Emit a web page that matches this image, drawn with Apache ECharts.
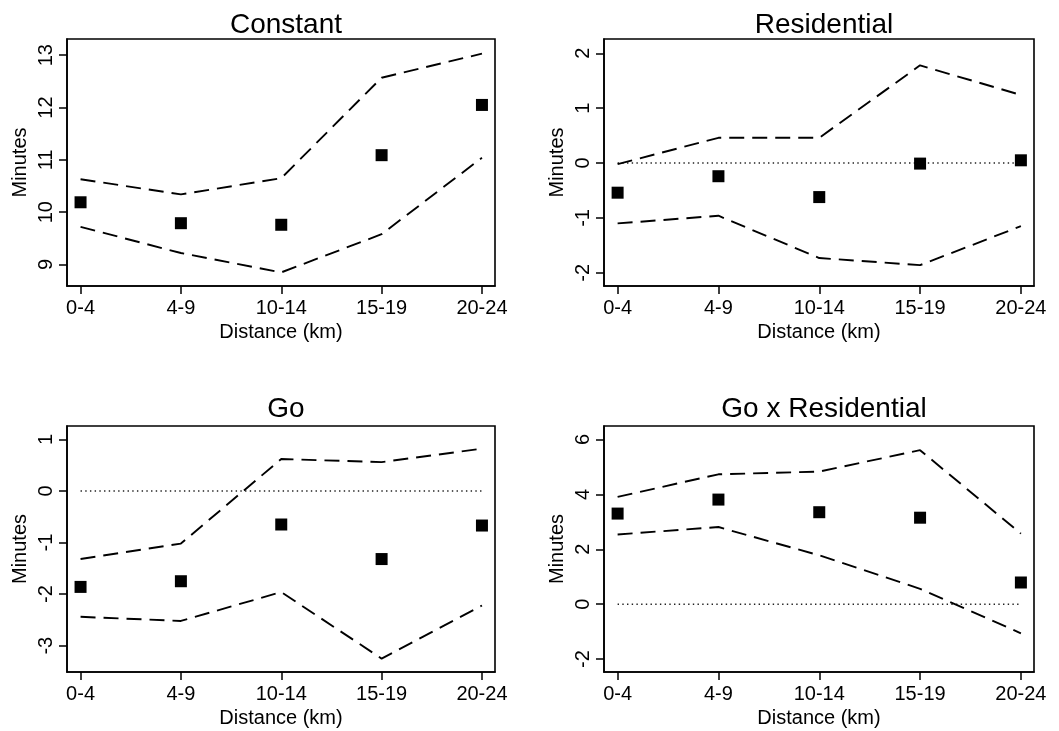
<!DOCTYPE html>
<html>
<head>
<meta charset="utf-8">
<script src="https://cdn.jsdelivr.net/npm/echarts@6/dist/echarts.min.js"></script>
<style>
  html, body { margin: 0; padding: 0; background: #fff; }
  #chart { width: 1059px; height: 731px; }
</style>
</head>
<body>
<div id="chart"></div>
<script>
// Distance bands (x categories)
const distanceBands = ['0-4', '4-9', '10-14', '15-19', '20-24'];

// Panel titles
const panelTitles = ['Constant', 'Residential', 'Go', 'Go x Residential'];

// Point estimates (minutes) per distance band
const constantEst    = [10.19, 9.79, 9.76, 11.09, 12.05];
const residentialEst = [-0.54, -0.24, -0.62, -0.01, 0.05];
const goEst          = [-1.86, -1.75, -0.65, -1.32, -0.67];
const goResEst       = [3.30, 3.81, 3.35, 3.15, 0.79];

// Upper confidence bounds
const constantHi    = [10.63, 10.34, 10.65, 12.57, 13.03];
const residentialHi = [-0.02, 0.46, 0.46, 1.78, 1.24];
const goHi          = [-1.32, -1.02, 0.62, 0.56, 0.82];
const goResHi       = [3.91, 4.73, 4.83, 5.61, 2.57];

// Lower confidence bounds
const constantLo    = [9.72, 9.22, 8.85, 9.58, 11.04];
const residentialLo = [-1.10, -0.96, -1.73, -1.86, -1.15];
const goLo          = [-2.44, -2.52, -1.96, -3.25, -2.22];
const goResLo       = [2.54, 2.81, 1.78, 0.56, -1.06];

// Y tick labels per panel
const constantTicks    = [9, 10, 11, 12, 13];
const residentialTicks = [-2, -1, 0, 1, 2];
const goTicks          = [-3, -2, -1, 0, 1];
const goResTicks       = [-2, 0, 2, 4, 6];

const FONT = '"Liberation Sans", Arial, Helvetica, sans-serif';

const panels = [
  { title: panelTitles[0], est: constantEst, hi: constantHi, lo: constantLo, ticks: constantTicks,
    yMin: 8.59, yMax: 13.31, zero: false, titleTop: 6, box: { left: 67, top: 39, width: 428, height: 247 } },
  { title: panelTitles[1], est: residentialEst, hi: residentialHi, lo: residentialLo, ticks: residentialTicks,
    yMin: -2.24, yMax: 2.26, zero: true, titleTop: 6, box: { left: 604, top: 39, width: 430, height: 247 } },
  { title: panelTitles[2], est: goEst, hi: goHi, lo: goLo, ticks: goTicks,
    yMin: -3.51, yMax: 1.26, zero: true, titleTop: 390, box: { left: 67, top: 426, width: 428, height: 246 } },
  { title: panelTitles[3], est: goResEst, hi: goResHi, lo: goResLo, ticks: goResTicks,
    yMin: -2.47, yMax: 6.49, zero: true, titleTop: 390, box: { left: 604, top: 426, width: 430, height: 246 } }
];

const catIdx = distanceBands.map((_, i) => i);
const pairs = arr => arr.map((v, i) => [i, v]);

const grid = [], xAxis = [], yAxis = [], series = [], title = [];

panels.forEach((p, k) => {
  grid.push({
    left: p.box.left, top: p.box.top, width: p.box.width, height: p.box.height,
    show: true, borderColor: '#000', borderWidth: 1.6, backgroundColor: 'transparent'
  });
  title.push({
    text: p.title,
    left: p.box.left + p.box.width / 2,
    top: p.titleTop,
    textAlign: 'center',
    textStyle: { fontFamily: FONT, fontSize: 28, fontWeight: 'normal', color: '#000' }
  });
  xAxis.push({
    type: 'value', gridIndex: k, min: -0.135, max: 4.13,
    name: 'Distance (km)', nameLocation: 'middle', nameGap: 36,
    nameTextStyle: { fontFamily: FONT, fontSize: 20, color: '#000' },
    axisLine: { show: true, onZero: false, lineStyle: { color: '#000', width: 1.6 } },
    axisTick: { show: true, customValues: catIdx, length: 8, lineStyle: { color: '#000', width: 1.5 } },
    axisLabel: { customValues: catIdx, formatter: v => distanceBands[Math.round(v)],
                 fontFamily: FONT, fontSize: 20, color: '#000', margin: 12 },
    splitLine: { show: false }
  });
  yAxis.push({
    type: 'value', gridIndex: k, min: p.yMin, max: p.yMax,
    name: 'Minutes', nameLocation: 'middle', nameGap: 37, nameRotate: 90,
    nameTextStyle: { fontFamily: FONT, fontSize: 20, color: '#000' },
    axisLine: { show: true, onZero: false, lineStyle: { color: '#000', width: 1.6 } },
    axisTick: { show: true, customValues: p.ticks, length: 8, lineStyle: { color: '#000', width: 1.5 } },
    axisLabel: { customValues: p.ticks, rotate: 90, fontFamily: FONT, fontSize: 20, color: '#000', margin: 11,
                 formatter: v => String(Math.round(v)) },
    splitLine: { show: false }
  });
  const dash = { color: '#000', width: 1.9, type: [15, 8] };
  if (p.zero) {
    series.push({
      type: 'line', xAxisIndex: k, yAxisIndex: k, data: [[0, 0], [4, 0]],
      symbol: 'none', silent: true, z: 1,
      lineStyle: { color: '#222', width: 1.4, type: [1.4, 3.3] }
    });
  }
  series.push({
    type: 'line', xAxisIndex: k, yAxisIndex: k, data: pairs(p.hi),
    symbol: 'none', lineStyle: dash, z: 2
  });
  series.push({
    type: 'line', xAxisIndex: k, yAxisIndex: k, data: pairs(p.lo),
    symbol: 'none', lineStyle: dash, z: 2
  });
  series.push({
    type: 'scatter', xAxisIndex: k, yAxisIndex: k, data: pairs(p.est),
    symbol: 'rect', symbolSize: 12, itemStyle: { color: '#000', opacity: 1 }, z: 3
  });
});

const chart = echarts.init(document.getElementById('chart'), null, { renderer: 'canvas' });
chart.setOption({
  animation: false,
  backgroundColor: '#fff',
  title, grid, xAxis, yAxis, series
});
</script>
</body>
</html>
